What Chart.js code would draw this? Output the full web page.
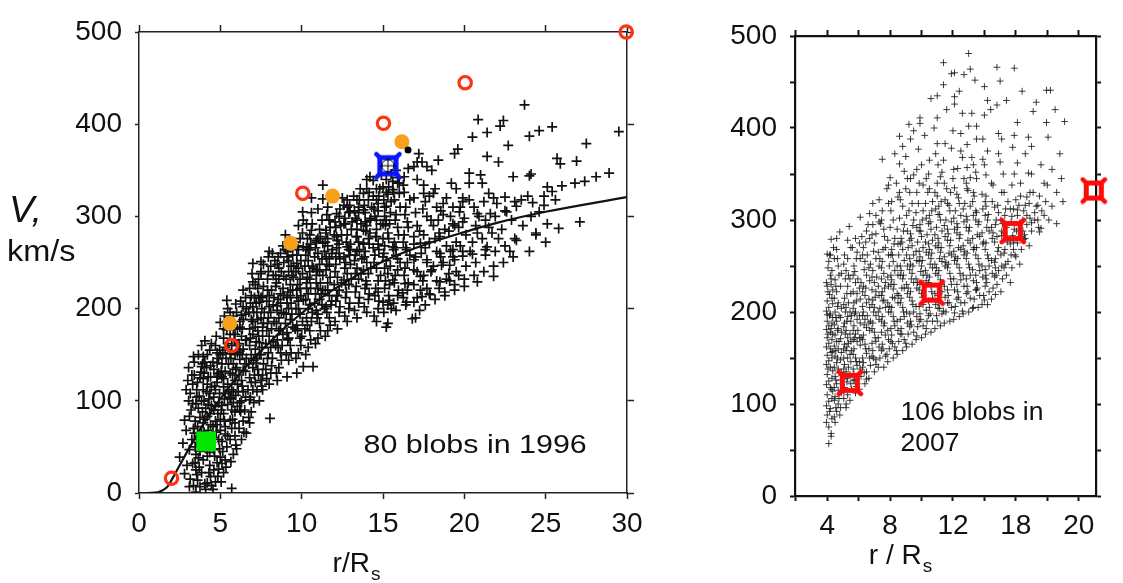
<!DOCTYPE html>
<html><head><meta charset="utf-8">
<script src="https://cdn.jsdelivr.net/npm/chart.js@4.4.1/dist/chart.umd.min.js"></script>
<style>
html,body{margin:0;padding:0;background:#fff;width:1123px;height:583px;overflow:hidden;}
#c1{position:absolute;left:0;top:0;}
#c2{position:absolute;left:690px;top:0;}
</style></head><body>
<canvas id="c1" width="660" height="583"></canvas>
<canvas id="c2" width="433" height="583"></canvas>
<script>
// ---------- Left panel data (1996) ----------
const yTicks = [0,100,200,300,400,500];
const blobs1996 = [
[23.7,421],[20.85,405],[22.4,404],[22.2,398],[21.4,391],[20.5,386],[25.4,397],[24.6,393],[24.0,387],[29.5,392],[22.7,377],[27.5,379],[19.6,373],[19.4,368],[18.4,361],[18.0,350],[17.4,359],[17.2,368],[16.9,354],[21.4,365],[22.1,359],[20.3,347],[21.0,345],[23.0,343],[24.0,344],[25.7,363],[25.9,357],[26.9,360],[28.9,347],[28.1,343],[27.4,338],[26.8,336],[26.0,333],[25.4,327],[24.9,322],[24.2,315],[23.5,318],[23.2,311],[22.5,321],[22.0,314],[21.5,325],[20.3,318],[19.9,316],[19.2,336],[20.3,336],[18.1,325],[17.5,325],[18.7,314],[19.7,305],[20.8,303],[21.6,303],[22.6,305],[19.3,292],[19.9,294],[18.4,296],[24.4,282],[25.8,287],[27.1,294],[23.2,274],[21.4,267],[16.0,325],[15.6,329],[16.0,336],[16.3,343],[16.55,352],[17.1,359],
[24.4,280],[21.3,264],[20.5,259],[19.9,257],[19.4,253],[19.1,247],[18.6,247],[18.0,242],[17.3,235],[21.8,235],[20.8,229],[20.0,224],[19.4,220],[18.8,218],[19.1,230],[18.5,229],[17.9,215],[17.4,213],[16.9,207],[16.45,207],[17.3,220],[16.2,217],[15.5,200],[15.3,184],[16.8,189],[15.0,207],[15.4,209],[16.35,227],[15.6,231],[16.9,242],[17.7,253],[16.9,253],[18.5,260],[19.3,264],[16.45,264],[15.6,267],[17.3,271],[18.5,278],[16.9,278],[20.8,282],
[11.3,334],[10.6,320],[11.3,319],[10.06,305],[10.6,304],[10.3,292],[10.6,285],[9.0,280],[12.6,312],[12.97,305],[13.8,325],[14.0,330],[14.4,339],[14.2,343],[13.4,318],[11.7,296],[12.15,303],[11.5,285],[12.6,292],[13.4,296],[13.8,307],[14.6,318],[15.0,332],[15.2,311],[14.2,296],[15.0,292],[10.9,274],[12.15,278],[13.4,278],[14.6,278],[13.8,285],[12.8,267],[10.1,267],
[7.0,249],[7.5,251],[7.5,240],[8.2,260],[7.0,229],[6.4,220],[5.4,209],[6.3,193],[7.0,202],[7.6,213],[8.4,224],[8.9,235],[9.7,249],[10.5,264],[11.3,271],[12.2,274],[13.0,264],[13.8,271],[15.0,256],[13.8,242],[12.6,231],[11.3,220],[10.1,209],[8.9,195],[7.6,180],[6.6,166],[5.6,151],[4.8,141],[4.4,126],[3.95,112],[3.5,97],[3.1,83],[2.9,68],[2.7,54],[2.5,39],[2.8,21],[3.1,7],[3.5,1],[3.95,148],[4.8,152],[3.85,137],[3.0,122],[2.9,112],[3.3,97],[2.8,79],[5.4,177],[6.2,180],[4.8,126],[5.6,130],[6.4,133],[7.2,141],[10.1,137],[10.7,137],[9.7,130],[9.1,126],[8.5,122],[8.05,81],[6.8,76],[6.6,65],[5.4,50],[6.0,48],[5.0,39],[4.6,25],[5.7,5],[5.0,68],[5.6,79],[6.2,90],[6.8,101],[7.6,112],[4.2,83],[4.6,104],[5.2,115],[5.6,104],[4.4,61],[3.75,50],[3.95,36],[3.5,25],[4.2,11],[3.75,7],[4.4,18],[3.3,32],[3.1,47],[3.4,65]
];
const blobs1996Core = [
[3.6,14],[3.7,28],[3.5,42],[3.8,58],[3.6,72],[3.9,88],[3.7,105],[3.6,120],[3.8,131],[3.4,142],
[4.1,4],[4.3,22],[4.2,40],[4.0,66],[4.4,74],[4.1,92],[4.3,102],[4.2,118],[4.0,130],[4.4,138],[4.2,150],
[4.7,12],[4.8,33],[4.6,47],[4.9,58],[4.7,78],[4.6,90],[4.9,98],[4.7,112],[4.8,120],[4.6,134],[4.9,146],[4.7,160],
[5.2,22],[5.3,36],[5.1,56],[5.3,72],[5.2,86],[5.1,95],[5.3,108],[5.2,124],[5.1,140],[5.3,158],[5.2,168],[5.0,185],
[5.8,42],[5.9,62],[5.7,70],[5.9,88],[5.8,98],[5.7,112],[5.9,122],[5.8,140],[5.7,160],[5.9,172],[5.8,192],[6.0,160],
[6.3,58],[6.4,78],[6.2,98],[6.4,110],[6.3,122],[6.2,145],[6.4,156],[6.3,170],[6.2,186],[6.4,202],[6.5,140],
[6.9,88],[7.0,112],[6.8,125],[7.0,136],[6.9,150],[6.8,160],[7.0,172],[6.9,188],[7.1,212],[6.8,222],
[7.4,100],[7.5,122],[7.3,134],[7.5,150],[7.4,163],[7.3,176],[7.5,190],[7.4,207],[7.3,222],[7.5,238],
[8.0,118],[8.1,130],[7.9,146],[8.1,158],[8.0,170],[7.9,184],[8.1,196],[8.0,214],[7.9,232],[8.1,246],[8.0,262],
[8.6,136],[8.7,152],[8.5,166],[8.7,178],[8.6,190],[8.5,203],[8.7,216],[8.6,232],[8.5,248],[8.7,260],
[9.2,144],[9.3,160],[9.1,174],[9.3,188],[9.2,200],[9.1,212],[9.3,226],[9.2,240],[9.1,256],[9.3,266],
[9.8,152],[9.9,168],[9.7,182],[9.9,194],[9.8,208],[9.7,220],[9.9,232],[9.8,244],[9.7,258],[9.9,276],[9.8,290],
[10.4,158],[10.5,176],[10.3,190],[10.5,204],[10.4,216],[10.3,228],[10.5,240],[10.4,252],[10.3,266],[10.5,280],
[11.0,168],[11.1,184],[10.9,198],[11.1,210],[11.0,222],[10.9,236],[11.1,248],[11.0,260],[10.9,272],[11.1,286],
[11.6,176],[11.7,190],[11.5,202],[11.7,214],[11.6,228],[11.5,242],[11.7,254],[11.6,268],[11.5,282],[11.7,296],[11.6,310],
[12.2,178],[12.3,196],[12.1,208],[12.3,220],[12.2,234],[12.1,248],[12.3,260],[12.2,274],[12.1,288],[12.3,300],
[12.8,186],[12.9,200],[12.7,212],[12.9,226],[12.8,238],[12.7,250],[12.9,264],[12.8,280],[12.7,292],[12.9,304],[12.8,318],
[13.4,190],[13.5,206],[13.3,218],[13.5,232],[13.4,244],[13.3,258],[13.5,272],[13.4,286],[13.3,298],[13.5,310],
[14.0,196],[14.1,210],[13.9,222],[14.1,238],[14.0,250],[13.9,262],[14.1,276],[14.0,290],[13.9,304],[14.1,318],
[14.6,186],[14.7,200],[14.5,214],[14.7,230],[14.6,244],[14.5,258],[14.7,270],[14.6,286],[14.5,300],[14.7,314],[14.6,330],
[15.2,180],[15.3,204],[15.1,222],[15.3,238],[15.2,252],[15.1,268],[15.3,282],[15.2,296],[15.1,310],[15.3,324],[15.2,340],
[15.8,198],[15.9,214],[15.7,228],[15.9,242],[15.8,258],[15.7,272],[15.9,288],[15.8,302],[15.7,318],[15.9,336],[15.8,350],
[16.4,204],[16.5,220],[16.3,236],[16.5,250],[16.4,266],[16.3,280],[16.5,294],[16.4,310],[16.3,326],
[17.0,190],[17.1,212],[16.9,226],[17.1,240],[17.0,256],[16.9,270],[17.1,290],[17.0,304],[16.9,320],[17.1,340],
[17.6,204],[17.7,222],[17.5,236],[17.7,250],[17.6,266],[17.5,280],[17.7,300],[17.6,316],[17.5,334],[17.7,354],
[18.2,210],[18.3,230],[18.1,246],[18.3,262],[18.2,276],[18.1,290],[18.3,310],[18.2,330],
[18.8,214],[18.9,232],[18.7,250],[18.9,268],[18.8,286],[18.7,302],[18.9,320],
[19.4,226],[19.5,240],[19.3,256],[19.5,272],[19.4,290],[19.3,310],[19.5,330],
[20.0,232],[20.1,246],[19.9,262],[20.1,280],[20.0,298],[19.9,320],
[20.6,236],[20.7,250],[20.5,272],[20.7,290],[20.6,310],
[21.2,240],[21.3,258],[21.1,276],[21.3,296],[21.2,316],[21.1,336],
[21.8,246],[21.9,262],[21.7,282],[21.9,300],[21.8,320],
[22.4,250],[22.5,268],[22.3,286],[22.5,306],
[23.0,256],[23.1,276],[22.9,296],[23.1,316],
[24.0,262],[24.1,300],[23.9,322],[24.1,346],
[25.0,272],[25.1,292],[24.9,312],[25.1,332]
];
const blobs1996Dense = [
[3.35,8],[3.55,20],[3.45,33],[3.75,45],[3.55,55],[3.85,66],[3.45,78],[3.65,92],[3.85,100],[3.55,112],[3.75,125],[3.9,140],[3.3,118],[3.2,90],[3.4,128],
[4.05,10],[4.35,30],[4.15,48],[4.45,55],[4.25,68],[4.05,80],[4.35,86],[4.15,110],[4.45,115],[4.25,126],[4.05,142],[4.35,155],[4.45,95],[4.0,100],
[4.55,4],[4.85,18],[4.65,40],[4.95,48],[4.75,66],[4.55,72],[4.85,86],[4.95,108],[4.65,116],[4.85,128],[4.55,142],[4.95,155],[4.75,170],
[5.05,12],[5.35,28],[5.15,45],[5.45,62],[5.25,78],[5.05,90],[5.45,96],[5.25,102],[5.45,118],[5.05,132],[5.35,146],[5.15,152],[5.45,162],[5.25,192],[5.45,200],
[5.65,34],[5.95,52],[5.75,80],[6.05,94],[5.65,102],[5.95,106],[6.05,118],[5.75,128],[5.95,134],[5.65,146],[6.05,152],[5.85,166],[6.05,178],[5.75,182],[5.95,205],
[6.15,70],[6.45,66],[6.25,88],[6.55,104],[6.35,116],[6.15,128],[6.55,132],[6.35,150],[6.15,162],[6.55,166],[6.35,178],[6.55,194],[6.25,208],[6.55,212],
[6.75,82],[7.05,98],[6.85,104],[7.15,120],[6.75,140],[7.05,144],[7.15,156],[6.85,168],[7.15,180],[6.75,196],[7.05,196],[6.85,206],[7.15,226],[6.95,238],
[7.25,110],[7.55,116],[7.35,128],[7.65,140],[7.25,146],[7.55,158],[7.35,170],[7.65,184],[7.25,196],[7.55,200],[7.35,214],[7.65,224],[7.35,232],[7.65,248],
[7.85,124],[8.15,138],[7.95,152],[8.25,164],[7.85,176],[8.15,178],[7.95,190],[8.25,204],[7.85,208],[8.15,220],[7.95,240],[8.25,236],[8.35,252],[7.95,256],
[8.45,130],[8.75,144],[8.55,158],[8.85,172],[8.45,184],[8.75,196],[8.55,210],[8.85,222],[8.45,228],[8.75,240],[8.55,256],[8.85,268],
[9.05,150],[9.35,152],[9.15,166],[9.45,180],[9.05,194],[9.35,206],[9.15,218],[9.45,220],[9.05,232],[9.35,246],[9.15,262],[9.45,258],[9.55,272],
[9.65,146],[9.95,160],[9.75,176],[10.05,186],[9.65,200],[9.95,214],[9.75,226],[10.05,238],[9.65,240],[9.95,252],[9.75,268],[10.05,282],[10.1,296],
[10.25,150],[10.55,166],[10.35,182],[10.65,196],[10.25,210],[10.55,222],[10.35,234],[10.65,246],[10.25,258],[10.55,270],[10.35,276],[10.65,292],
[10.85,162],[11.15,176],[10.95,190],[11.25,204],[10.85,216],[11.15,228],[10.95,242],[11.25,254],[10.85,266],[11.15,278],[11.25,296],[11.0,308],
[11.45,170],[11.75,182],[11.55,196],[11.85,208],[11.45,220],[11.75,234],[11.55,248],[11.85,260],[11.45,272],[11.75,288],[11.55,302],
[12.05,186],[12.35,202],[12.15,214],[12.45,228],[12.05,240],[12.35,254],[12.15,266],[12.45,280],[12.05,294],[12.35,308],[12.5,320],
[12.65,192],[12.95,206],[12.75,218],[13.05,232],[12.65,244],[12.95,258],[12.75,272],[13.05,286],[12.65,298],[12.95,312],
[13.25,198],[13.55,212],[13.35,224],[13.65,238],[13.25,252],[13.55,264],[13.35,278],[13.65,292],[13.25,306],[13.55,318],
[13.85,202],[14.15,216],[13.95,230],[14.25,244],[13.85,256],[14.15,270],[13.95,284],[14.25,298],[13.85,312],[14.15,326],
[14.45,192],[14.75,208],[14.55,222],[14.85,236],[14.45,250],[14.75,264],[14.55,278],[14.85,292],[14.45,308],[14.75,322],[14.9,345],
[15.05,196],[15.35,214],[15.15,230],[15.45,246],[15.05,260],[15.35,276],[15.15,290],[15.45,304],[15.05,318],[15.35,332],[15.5,346],
[15.65,206],[15.95,220],[15.75,236],[16.05,250],[15.65,264],[15.95,280],[15.75,296],[16.05,310],[15.65,326],[15.95,342],
[16.25,212],[16.55,228],[16.35,244],[16.65,258],[16.25,272],[16.55,288],[16.35,302],[16.65,318],[16.25,334],
[17.25,198],[17.45,230],[17.35,260],[17.25,284],[17.45,308],[17.85,216],[17.95,240],[17.85,272],[17.95,296],[17.85,322],
[18.45,222],[18.55,256],[18.45,282],[18.55,306],[19.05,238],[19.15,262],[19.05,284],[19.15,300],[19.65,236],[19.75,268],[19.65,288],[19.75,310],
[20.35,262],[20.9,300],[21.5,288],[22.1,276],[22.8,262],[23.6,290],[24.6,305],[25.6,318]
];
const blobs1996Extra = [
[2.95,30],[3.15,15],[3.25,58],[3.05,100],[3.45,50],[3.65,38],[3.35,70],[3.85,22],[3.95,76],[4.15,58],[4.35,44],[4.45,8],[4.25,96],[3.95,124],[4.15,136],[3.65,150],[4.35,108],[3.75,82],[3.55,104],[3.15,108],[3.05,136],[3.35,148],[3.85,160],[4.05,165],[4.45,162],[3.25,128],
[4.6,60],[4.8,74],[5.0,80],[4.7,94],[4.9,130],[5.1,126],[5.3,132],[5.5,140],[5.0,150],[5.2,178],[5.4,186],[5.6,172],[5.8,178],[5.5,110],[5.7,90],[5.9,76],[5.3,64],[5.1,32],[4.9,26],[5.6,58],[5.8,110],[6.0,136],[5.6,196],[5.9,150],
[6.1,110],[6.3,100],[6.5,90],[6.7,112],[6.9,120],[7.1,128],[6.6,146],[6.8,178],[7.0,186],[7.2,164],[7.4,150],[7.6,170],[7.8,162],[6.4,188],[6.6,200],[6.9,214],[7.2,206],[7.5,212],[7.7,196],[7.9,220],[8.0,202],[7.3,188],[7.8,134],[7.6,128],[6.2,154],[6.0,196],
[8.2,146],[8.4,160],[8.6,176],[8.8,160],[9.0,184],[9.2,168],[9.4,194],[9.6,178],[9.8,200],[8.3,186],[8.5,198],[8.7,206],[8.9,214],[9.1,206],[9.3,214],[9.5,234],[9.7,212],[9.9,222],[8.3,212],[8.6,244],[8.9,250],[9.2,252],[9.5,246],[9.8,264],[8.4,236],[9.0,264],[9.4,236],[10.0,170],
[10.2,178],[10.4,200],[10.6,186],[10.8,206],[11.0,194],[11.2,216],[11.4,200],[11.6,220],[11.8,204],[12.0,226],[12.2,214],[10.3,222],[10.5,232],[10.7,244],[10.9,228],[11.1,240],[11.3,236],[11.5,256],[11.7,246],[11.9,264],[12.1,256],[12.3,270],[10.2,246],[10.8,256],[11.4,262],[12.0,280],[10.4,264],[11.0,276],[11.6,276],[12.4,290],
[12.6,256],[13.0,270],[13.4,262],[13.8,270],[14.2,282],[14.6,296],[15.0,276],[15.4,292],[15.8,266],[13.1,294],[13.5,304],[13.9,294],[14.3,310],[14.7,306],[15.1,300],[15.5,316],[12.8,310],[13.2,322],[13.6,330],[14.0,340],[14.4,322],[14.8,330],[15.2,326],[15.6,338],[13.0,248],[13.7,254],[14.4,266],[15.1,244],[15.9,254],[12.7,226],[13.3,238],[14.0,226],[14.7,218],[15.4,226]
];
const fitCurve1996 = [[0.5,0],[1.2,1],[1.7,6],[2.0,14],[2.5,30],[3,46],[4,76],[5,102],[6,125],[7,145],[8,163],[9,180],[10,195],[11,209],[12,221],[13,232],[14,242],[15,251],[16,259],[18,272],[20,283],[22,293],[25,305],[30,321]];
const redOpen1996 = [[2.0,16],[5.7,160],[10.07,325],[15.03,401],[20.05,445],[29.95,500]];
const orangeFilled1996 = [[5.58,184],[9.32,271],[11.9,322],[16.16,381]];
const blackDot1996 = [[16.54,372]];
const blueMarker1996 = [[15.3,355]];
const greenMarker1996 = [[4.13,56]];
const label1996 = '80 blobs in 1996';

// ---------- Right panel data (2007) ----------
const xTickValues2007 = [4,8,12,16,20];
const xTickLabels2007 = ['4','8','12','18','20'];
const blobs2007 = [
[13.0,481],[11.4,471],[14.8,466],[15.9,465],[11.9,459],[12.1,460],[12.7,458],[13.1,464],[11.4,447],[14.0,445],[15.0,451],[17.95,441],[18.2,441],[10.6,432],[11.0,435],[12.1,434],[12.1,426],[14.2,430],[14.8,425],[17.1,418],[12.6,416],[13.2,416],[14.0,414],[11.0,411],[9.9,411],[9.9,405],[9.2,404],[9.5,397],[8.6,391],[12.0,397],[12.5,394],[13.0,402],[13.5,402],[13.5,388],[13.9,388],[14.9,394],[15.1,388],[16.1,406],[16.8,390],[17.95,406],[19.1,407],[18.05,390],[15.8,379],[17.0,380],[11.0,383],[11.5,383],[9.8,377],[7.5,366],[9.0,369],[10.5,365],[11.4,365],[12.6,368],[13.2,368],[14.2,375],[15.0,363],[16.1,362],[15.9,350],[16.8,351],[18.0,338],[15.75,338],[16.9,330],[17.4,316],[17.6,291],[17.0,297],[16.7,305],[16.1,311],[8.0,346],[7.9,338],[8.6,361],[8.9,353],[9.5,349],[10.3,345],[11.2,347],[12.0,345],[12.9,357],[13.5,345],[14.1,349],[14.55,338],[14.1,326],[13.3,330],[12.9,334],[12.4,318],[11.6,334],[11.0,326],[10.5,334],[9.7,330],[9.0,334],[8.6,330],[7.8,334],[7.3,322],[6.9,318],[6.7,307],[6.1,303],[5.4,293],[4.8,287],[4.25,279],[4.2,262],[4.0,263],[4.05,248],[4.25,236],[4.0,228],[4.15,219],[4.35,209],[4.0,197],
[17.5,287],[16.5,279],[15.8,283],[15.1,283],[14.7,248],[14.1,240],[13.5,224],[14.0,213],[14.7,219],[13.3,205],[12.6,201],[12.1,199],[11.4,201],[11.0,190],[10.3,182],[9.7,174],[9.0,166],[8.4,158],[7.8,154],[7.1,143],[6.5,127],[5.85,119],[5.2,96],[4.8,88],[4.5,80],[4.25,68],[4.1,57],[4.25,65],
[8.3,372],[8.8,380],[9.3,388],[10.2,392],[10.8,400],[11.6,420],[12.4,440],[13.4,452],[14.4,420],[15.4,430],[16.4,440],[17.3,428],[18.5,420],[10.0,360],[10.9,372],[11.9,378],[12.9,382],[13.9,366],[14.9,372],[15.9,392],[16.6,372],[17.6,360],[18.3,355],[18.8,372],[8.4,340],[9.3,345],[10.1,338],[11.3,352],[12.3,356],[13.1,346],[14.0,360],[15.2,350],[16.3,340],[17.0,350],[17.8,340],[18.6,330],[18.9,345],[19.0,320]
];
const blobs2007Core = [
[4.1,75],[4.0,88],[4.2,95],[4.1,103],[4.0,110],[4.2,118],[4.1,125],[4.0,132],[4.2,140],[4.1,147],[4.0,153],[4.2,160],[4.1,166],[4.0,172],[4.2,178],[4.1,185],[4.0,190],[4.2,198],[4.1,205],[4.0,212],[4.2,240],[4.1,255],
[4.6,92],[4.7,100],[4.5,108],[4.7,115],[4.6,122],[4.5,130],[4.7,138],[4.6,145],[4.5,152],[4.7,160],[4.6,168],[4.5,175],[4.7,182],[4.6,190],[4.5,200],[4.7,210],[4.6,222],[4.5,235],[4.7,250],[4.6,268],
[5.2,100],[5.3,110],[5.1,118],[5.3,128],[5.2,135],[5.1,143],[5.3,150],[5.2,158],[5.1,165],[5.3,172],[5.2,180],[5.1,188],[5.3,195],[5.2,205],[5.1,215],[5.3,228],[5.2,245],[5.1,262],[5.3,278],
[5.8,112],[5.9,122],[5.7,133],[5.9,142],[5.8,150],[5.7,160],[5.9,168],[5.8,176],[5.7,185],[5.9,192],[5.8,200],[5.7,210],[5.9,220],[5.8,232],[5.7,250],[5.9,265],[5.8,280],
[6.4,122],[6.5,135],[6.3,145],[6.5,155],[6.4,165],[6.3,175],[6.5,183],[6.4,192],[6.3,200],[6.5,210],[6.4,218],[6.3,228],[6.5,240],[6.4,255],[6.3,270],[6.5,288],
[7.0,135],[7.1,148],[6.9,158],[7.1,168],[7.0,178],[6.9,188],[7.1,196],[7.0,205],[6.9,213],[7.1,222],[7.0,232],[6.9,245],[7.1,258],[7.0,275],[6.9,295],[7.1,305],
[7.6,140],[7.7,152],[7.5,165],[7.7,175],[7.6,185],[7.5,195],[7.7,205],[7.6,213],[7.5,222],[7.7,232],[7.6,242],[7.5,255],[7.7,270],[7.6,290],[7.5,310],
[8.2,150],[8.3,162],[8.1,175],[8.3,185],[8.2,195],[8.1,205],[8.3,215],[8.2,225],[8.1,235],[8.3,245],[8.2,255],[8.1,268],[8.3,280],[8.2,300],[8.1,320],
[8.8,158],[8.9,170],[8.7,182],[8.9,195],[8.8,205],[8.7,215],[8.9,226],[8.8,236],[8.7,245],[8.9,256],[8.8,268],[8.7,280],[8.9,295],[8.8,315],
[9.4,165],[9.5,178],[9.3,190],[9.5,200],[9.4,212],[9.3,222],[9.5,232],[9.4,242],[9.3,252],[9.5,262],[9.4,272],[9.3,285],[9.5,300],[9.4,318],
[10.0,172],[10.1,185],[9.9,198],[10.1,208],[10.0,220],[9.9,230],[10.1,240],[10.0,250],[9.9,260],[10.1,270],[10.0,282],[9.9,295],[10.1,310],
[10.6,178],[10.7,190],[10.5,205],[10.7,215],[10.6,228],[10.5,238],[10.7,248],[10.6,258],[10.5,268],[10.7,278],[10.6,290],[10.5,305],[10.7,320],
[11.2,185],[11.3,198],[11.1,210],[11.3,222],[11.2,235],[11.1,245],[11.3,255],[11.2,265],[11.1,275],[11.3,288],[11.2,300],[11.1,315],
[11.8,190],[11.9,205],[11.7,218],[11.9,230],[11.8,242],[11.7,252],[11.9,262],[11.8,272],[11.7,285],[11.9,298],[11.8,310],
[12.4,195],[12.5,210],[12.3,222],[12.5,235],[12.4,248],[12.3,258],[12.5,268],[12.4,280],[12.3,292],[12.5,305],
[13.0,200],[13.1,215],[12.9,228],[13.1,240],[13.0,252],[12.9,264],[13.1,275],[13.0,288],[12.9,300],[13.1,315],
[13.6,205],[13.7,218],[13.5,232],[13.7,245],[13.6,258],[13.5,270],[13.7,282],[13.6,295],[13.5,308],
[14.2,208],[14.3,222],[14.1,236],[14.3,250],[14.2,262],[14.1,275],[14.3,288],[14.2,300],[14.1,315],
[14.8,230],[14.9,245],[14.7,258],[14.9,270],[14.8,282],[14.7,295],[14.9,308],
[15.4,240],[15.5,255],[15.3,268],[15.5,280],[15.4,292],[15.3,305],[15.5,320],
[16.0,260],[16.1,275],[15.9,290],[16.1,305],[16.0,322],
[16.6,280],[16.7,295],[16.5,310],[16.7,325],
[17.2,300],[17.3,315],[17.1,330],
[17.8,305],[17.9,320]
];
const blobs2007Dense = [
[3.95,80],[4.3,84],[3.95,98],[4.3,106],[4.35,114],[3.95,121],[4.3,128],[4.35,136],[3.95,143],[4.3,150],[4.35,157],[3.95,162],[4.3,170],[4.35,176],[3.95,181],[4.3,188],[4.35,194],[3.95,201],[4.3,215],[4.35,224],[3.95,232],[4.3,245],[4.4,270],
[4.45,86],[4.85,96],[4.45,104],[4.9,112],[4.45,118],[4.85,126],[4.9,134],[4.45,140],[4.85,148],[4.9,156],[4.45,163],[4.85,171],[4.9,178],[4.45,186],[4.85,194],[4.9,204],[4.45,215],[4.85,228],[4.9,242],[4.45,258],
[5.45,104],[5.05,114],[5.5,122],[5.45,132],[5.05,138],[5.5,146],[5.45,154],[5.05,160],[5.5,168],[5.45,176],[5.05,184],[5.5,190],[5.45,200],[5.05,208],[5.5,220],[5.45,236],[5.05,252],[5.5,270],
[6.05,116],[5.65,126],[6.1,138],[6.05,146],[5.65,154],[6.1,164],[6.05,172],[5.65,180],[6.1,188],[6.05,196],[5.65,204],[6.1,214],[6.05,226],[5.65,240],[6.1,258],[6.05,275],
[6.65,128],[6.25,140],[6.7,150],[6.65,160],[6.25,170],[6.7,180],[6.65,188],[6.25,196],[6.7,205],[6.65,214],[6.25,222],[6.7,234],[6.65,248],[6.25,262],[6.7,280],[6.6,295],
[7.25,140],[6.85,152],[7.3,162],[7.25,172],[6.85,182],[7.3,192],[7.25,200],[6.85,208],[7.3,218],[7.25,228],[6.85,238],[7.3,250],[7.25,265],[6.85,284],[7.3,298],
[7.85,146],[7.45,158],[7.9,170],[7.85,180],[7.45,190],[7.9,200],[7.85,210],[7.45,218],[7.9,228],[7.85,238],[7.45,248],[7.9,262],[7.85,278],[7.45,300],[7.9,318],
[8.45,154],[8.05,168],[8.5,180],[8.45,190],[8.05,200],[8.5,210],[8.45,220],[8.05,230],[8.5,240],[8.45,250],[8.05,262],[8.5,274],[8.45,290],[8.05,310],[8.5,325],
[9.05,162],[8.65,176],[9.1,188],[9.05,200],[8.65,210],[9.1,220],[9.05,230],[8.65,240],[9.1,250],[9.05,262],[8.65,274],[9.1,288],[9.05,305],[8.65,322],[9.1,345],
[9.65,170],[9.25,184],[9.7,195],[9.65,206],[9.25,216],[9.7,226],[9.65,236],[9.25,246],[9.7,256],[9.65,266],[9.25,278],[9.7,292],[9.65,308],[9.25,330],[9.7,355],
[10.25,176],[9.85,190],[10.3,202],[10.25,214],[9.85,224],[10.3,234],[10.25,245],[9.85,255],[10.3,265],[10.25,276],[9.85,288],[10.3,302],[10.25,318],[9.85,340],
[10.85,182],[10.45,196],[10.9,208],[10.85,220],[10.45,232],[10.9,242],[10.85,252],[10.45,262],[10.9,272],[10.85,284],[10.45,296],[10.9,312],[10.85,330],[10.45,350],
[11.45,188],[11.05,204],[11.5,216],[11.45,228],[11.05,240],[11.5,250],[11.45,260],[11.05,270],[11.5,282],[11.45,294],[11.05,306],[11.5,322],[11.45,340],[11.05,360],
[12.05,192],[11.65,210],[12.1,224],[12.05,236],[11.65,248],[12.1,256],[12.05,266],[11.65,278],[12.1,290],[12.05,302],[11.65,318],[12.1,335],[12.05,355],
[12.65,198],[12.25,214],[12.7,228],[12.65,240],[12.25,252],[12.7,262],[12.65,272],[12.25,286],[12.7,298],[12.65,312],[12.25,328],[12.7,345],[12.5,375],
[13.25,204],[12.85,220],[13.3,234],[13.25,246],[12.85,258],[13.3,268],[13.25,280],[12.85,292],[13.3,305],[13.25,320],[12.85,340],[13.3,360],
[13.85,208],[13.45,224],[13.9,238],[13.85,250],[13.45,262],[13.9,274],[13.85,286],[13.45,300],[13.9,312],[13.85,328],[13.45,352],
[14.45,214],[14.05,228],[14.5,242],[14.45,256],[14.05,268],[14.5,280],[14.45,292],[14.05,305],[14.5,320],[14.45,340],
[15.05,222],[14.65,238],[15.1,250],[15.05,262],[14.65,276],[15.1,288],[15.05,300],[14.65,314],[15.1,330],
[15.65,232],[15.25,248],[15.7,262],[15.65,274],[15.25,286],[15.7,298],[15.65,312],[15.25,330],
[16.25,252],[15.85,268],[16.3,282],[16.25,296],[15.85,312],[16.3,326],
[16.85,272],[16.45,288],[16.9,302],[16.85,318],
[17.45,292],[17.65,310],[17.5,326],[18.1,300],[18.3,315],[18.6,296]
];
const blobs2007Extra = [
[4.15,92],[4.25,116],[4.05,138],[4.25,156],[4.05,176],[4.25,182],[4.15,196],[4.05,222],[4.25,230],[4.15,262],
[4.55,96],[4.75,106],[4.55,126],[4.75,134],[4.65,150],[4.55,158],[4.75,168],[4.65,180],[4.55,194],[4.75,196],[4.65,206],[4.55,228],[4.75,240],[4.65,258],[4.6,280],
[5.05,106],[5.25,124],[5.15,130],[5.35,140],[5.05,150],[5.25,162],[5.35,166],[5.15,176],[5.25,190],[5.35,210],[5.15,200],[5.25,220],[5.35,240],[5.15,236],[5.3,258],
[5.55,116],[5.75,126],[5.65,138],[5.85,146],[5.55,158],[5.75,172],[5.65,170],[5.95,180],[5.55,196],[5.75,198],[5.85,212],[5.65,222],[5.95,236],[5.75,244],[5.85,258],[5.6,270],
[6.15,130],[6.35,134],[6.25,150],[6.45,160],[6.15,172],[6.35,186],[6.55,196],[6.25,206],[6.45,226],[6.15,232],[6.35,246],[6.55,262],[6.2,282],[6.45,276],
[6.75,142],[6.95,150],[6.85,166],[7.05,172],[6.75,190],[6.95,200],[7.05,216],[6.85,224],[7.15,238],[6.75,252],[6.95,266],[7.1,285],
[7.35,150],[7.55,160],[7.45,178],[7.65,188],[7.35,204],[7.55,212],[7.65,226],[7.45,236],[7.35,258],[7.55,268],[7.65,282],[7.4,296],
[7.95,160],[8.15,166],[8.05,182],[8.25,190],[7.95,206],[8.15,216],[8.25,230],[8.05,240],[7.95,250],[8.15,262],[8.25,274],[8.0,292],
[8.55,168],[8.75,176],[8.65,192],[8.85,200],[8.55,218],[8.75,226],[8.85,240],[8.65,250],[8.55,262],[8.75,276],[8.85,288],[8.6,302],
[9.15,176],[9.35,186],[9.25,198],[9.45,208],[9.15,226],[9.35,236],[9.45,250],[9.25,258],[9.15,270],[9.35,280],[9.45,294],[9.2,310],
[9.75,184],[9.95,192],[9.85,206],[10.05,216],[9.75,232],[9.95,244],[10.05,256],[9.85,266],[9.75,276],[9.95,288],[10.05,300],[9.8,318],
[10.35,190],[10.55,198],[10.45,212],[10.65,222],[10.35,240],[10.55,252],[10.65,264],[10.45,274],[10.35,284],[10.55,298],[10.65,310],[10.4,330],
[10.95,196],[11.15,204],[11.05,218],[11.25,230],[10.95,248],[11.15,258],[11.25,270],[11.05,280],[10.95,292],[11.15,306],[11.25,320],[11.0,340],
[11.55,200],[11.75,210],[11.65,224],[11.85,236],[11.55,254],[11.75,264],[11.85,278],[11.65,290],[11.55,300],[11.75,316],[11.85,330],
[12.15,206],[12.35,216],[12.25,230],[12.45,242],[12.15,260],[12.35,270],[12.45,284],[12.25,296],[12.15,310],[12.35,324],
[12.75,210],[12.95,222],[12.85,236],[13.05,248],[12.75,266],[12.95,278],[13.05,292],[12.85,304],[12.75,318],[12.95,332],
[13.35,214],[13.55,226],[13.45,240],[13.65,252],[13.35,270],[13.55,284],[13.65,298],[13.45,310],[13.35,326],
[13.95,218],[14.15,232],[14.05,246],[14.25,258],[13.95,276],[14.15,292],[14.25,306],[14.05,320],
[14.55,226],[14.75,240],[14.65,254],[14.85,266],[14.55,286],[14.75,300],[14.85,316],
[15.15,236],[15.35,252],[15.25,264],[15.45,276],[15.15,296],[15.35,312],
[15.75,248],[15.95,262],[15.85,276],[16.05,288],[15.75,304],[16.2,316],
[16.35,268],[16.55,284],[16.45,300],[16.6,316],[17.0,288],[17.2,308],[17.4,300]
];
const redMarkers2007 = [[5.44,123],[10.65,221],[15.8,288],[20.96,332]];
const label2007 = ['106 blobs in','2007'];

// ---------- helpers ----------
const FONT = "'Liberation Sans', Arial, Helvetica, sans-serif";
const pts = a => a.map(p => ({x:p[0], y:p[1]}));
function ringMarker(color, size, lw, inner){
  const c = document.createElement('canvas'); c.width = c.height = size;
  const g = c.getContext('2d'); const m = size/2, h = size*0.27;
  g.strokeStyle = color; g.fillStyle = color; g.lineWidth = lw;
  g.strokeRect(m-h, m-h, 2*h, 2*h);
  g.lineCap = 'round'; g.lineWidth = lw*0.9;
  [[-1,-1],[1,-1],[1,1],[-1,1]].forEach(([sx,sy])=>{
    g.beginPath(); g.moveTo(m+sx*h, m+sy*h); g.lineTo(m+sx*(h+lw*0.7), m+sy*(h+lw*0.7)); g.stroke();
  });
  if (inner){
    g.lineWidth = 1; g.strokeStyle = '#000';
    g.beginPath(); g.arc(m, m, h*0.75, 0, Math.PI*2); g.stroke();
    g.beginPath(); g.moveTo(m-h*0.9, m); g.lineTo(m+h*0.9, m); g.moveTo(m, m-h*0.9); g.lineTo(m, m+h*0.9); g.stroke();
  }
  return c;
}
function axisCfg(o){
  return Object.assign({
    type:'linear',
    grid:{drawOnChartArea:false, drawTicks:true, tickLength:6, color:'#222', tickWidth:1.5},
    border:{display:true, color:'#222', width:1.5},
  }, o);
}
function stretchedText(ctx, txt, x, y, font, sx){
  ctx.save(); ctx.font = font; ctx.translate(x, y); ctx.scale(sx, 1);
  ctx.fillText(txt, 0, 0); ctx.restore();
}
function drawSub(ctx, main, sub, cx, cy, size){
  ctx.save();
  ctx.font = size+'px '+FONT; const w1 = ctx.measureText(main).width;
  ctx.font = Math.round(size*0.68)+'px '+FONT; const w2 = ctx.measureText(sub).width;
  let x = cx - (w1+w2)/2;
  ctx.fillStyle = '#111'; ctx.textBaseline = 'middle'; ctx.textAlign = 'left';
  ctx.font = size+'px '+FONT; ctx.fillText(main, x, cy);
  ctx.font = Math.round(size*0.68)+'px '+FONT; ctx.fillText(sub, x+w1+1, cy+size*0.38);
  ctx.restore();
}
const crossL = {pointStyle:'cross', pointRadius:5, borderColor:'#111', borderWidth:1.7};
const crossR = {pointStyle:'cross', pointRadius:3.4, borderColor:'rgba(20,20,20,0.82)', borderWidth:1};

// ---------- Left chart ----------
const textPlugin1 = {
  id:'texts1',
  afterDraw(chart){
    const ctx = chart.ctx, xs = chart.scales.x, ys = chart.scales.y;
    ctx.save(); ctx.fillStyle = '#111'; ctx.textBaseline = 'middle'; ctx.textAlign = 'left';
    stretchedText(ctx, label1996, xs.getPixelForValue(13.8), ys.getPixelForValue(51), '26px '+FONT, 1.17);
    stretchedText(ctx, 'V,', 9, 212, 'italic 36px '+FONT, 1.05);
    stretchedText(ctx, 'km/s', 7, 253, '29px '+FONT, 1.12);
    ctx.restore();
    drawSub(ctx, 'r/R', 's', 356, 564, 28);
  }
};
new Chart(document.getElementById('c1'), {
  type:'scatter',
  data:{datasets:[
    {data:pts(greenMarker1996), pointStyle:'rect', pointRadius:14, backgroundColor:'#00e600', borderColor:'#00e600', borderWidth:0, order:0},
    {data:pts(blueMarker1996), pointStyle:ringMarker('#0a14ff', 30, 5, true), pointRadius:12, order:1, clip:false},
    {data:pts(blackDot1996), pointStyle:'circle', pointRadius:3.5, backgroundColor:'#000', borderColor:'#000', borderWidth:0, order:2},
    {data:pts(orangeFilled1996), pointStyle:'circle', pointRadius:7.5, backgroundColor:'#f8a01c', borderColor:'#f8a01c', borderWidth:0, order:3},
    {data:pts(redOpen1996), pointStyle:'circle', pointRadius:6.2, backgroundColor:'rgba(0,0,0,0)', borderColor:'#ff3312', borderWidth:3.2, order:4, clip:false},
    Object.assign({data:pts(blobs1996), order:6}, crossL),
    Object.assign({data:pts(blobs1996Core), order:7}, crossL),
    Object.assign({data:pts(blobs1996Dense), order:8}, crossL),
    Object.assign({data:pts(blobs1996Extra), order:9}, crossL),
    {data:pts(fitCurve1996), showLine:true, pointRadius:0, borderColor:'#111', borderWidth:2.2, tension:0.4, fill:false, order:20}
  ]},
  options:{
    responsive:false, devicePixelRatio:1, animation:false,
    layout:{padding:0},
    plugins:{legend:{display:false}, tooltip:{enabled:false}},
    scales:{
      x: axisCfg({position:'bottom', min:0, max:30,
         ticks:{stepSize:5, autoSkip:false, maxRotation:0, padding:8, color:'#111', font:{size:28, family:FONT}},
         afterFit(s){ s.height = 90; }}),
      xTop: axisCfg({position:'top', min:0, max:30, ticks:{display:false, stepSize:5},
         grid:{drawOnChartArea:false, tickLength:7, color:'#222', tickWidth:1.5},
         afterFit(s){ s.height = 32; }}),
      y: axisCfg({position:'left', min:0, max:500,
         ticks:{stepSize:100, padding:13, color:'#111', font:{size:28, family:FONT}},
         grid:{drawOnChartArea:false, tickLength:4, color:'#222', tickWidth:1.5},
         afterFit(s){ s.width = 139; }}),
      yR: axisCfg({position:'right', min:0, max:500, ticks:{display:false, stepSize:100},
         grid:{drawOnChartArea:false, tickLength:7, color:'#222', tickWidth:1.5},
         afterFit(s){ s.width = 33; }})
    }
  },
  plugins:[textPlugin1]
});

// ---------- Right chart ----------
const textPlugin2 = {
  id:'texts2',
  afterDraw(chart){
    const ctx = chart.ctx, xs = chart.scales.x, ys = chart.scales.y;
    ctx.save(); ctx.fillStyle = '#111'; ctx.textBaseline = 'middle'; ctx.textAlign = 'left';
    stretchedText(ctx, label2007[0], xs.getPixelForValue(8.66), ys.getPixelForValue(90), '25px '+FONT, 1.06);
    stretchedText(ctx, label2007[1], xs.getPixelForValue(8.66), ys.getPixelForValue(56), '25px '+FONT, 1.06);
    ctx.restore();
    drawSub(ctx, 'r / R', 's', 210, 556, 28);
  }
};
new Chart(document.getElementById('c2'), {
  type:'scatter',
  data:{datasets:[
    {data:pts(redMarkers2007), pointStyle:ringMarker('#ff0a0a', 28, 5, false), pointRadius:12, order:0, clip:false},
    Object.assign({data:pts(blobs2007), order:1}, crossR),
    Object.assign({data:pts(blobs2007Core), order:2}, crossR),
    Object.assign({data:pts(blobs2007Dense), order:3}, crossR),
    Object.assign({data:pts(blobs2007Extra), order:4}, crossR)
  ]},
  options:{
    responsive:false, devicePixelRatio:1, animation:false,
    layout:{padding:0},
    plugins:{legend:{display:false}, tooltip:{enabled:false}},
    scales:{
      x: axisCfg({position:'bottom', min:1.95, max:21.1,
         ticks:{stepSize:2, includeBounds:false, autoSkip:false, maxRotation:0, padding:8, color:'#111', font:{size:28, family:FONT},
           callback(v){ const i = xTickValues2007.indexOf(v); return i >= 0 ? xTickLabels2007[i] : ''; }},
         grid:{drawOnChartArea:false, tickLength:5, color:'#111', tickWidth:2},
         border:{display:true, color:'#111', width:2.2},
         afterFit(s){ s.height = 87; }}),
      xTop: axisCfg({position:'top', min:1.95, max:21.1, ticks:{display:false, stepSize:2, includeBounds:false},
         grid:{drawOnChartArea:false, tickLength:6, color:'#111', tickWidth:2},
         border:{display:true, color:'#111', width:2.2},
         afterFit(s){ s.height = 36; }}),
      y: axisCfg({position:'left', min:0, max:500,
         ticks:{stepSize:50, padding:13, color:'#111', font:{size:28, family:FONT},
           callback(v){ return yTicks.includes(v) ? String(v) : ''; }},
         grid:{drawOnChartArea:false, tickLength:5, color:'#111', tickWidth:2},
         border:{display:true, color:'#111', width:2.2},
         afterFit(s){ s.width = 105; }}),
      yR: axisCfg({position:'right', min:0, max:500, ticks:{display:false, stepSize:50},
         grid:{drawOnChartArea:false, tickLength:5, color:'#111', tickWidth:2},
         border:{display:true, color:'#111', width:2.2},
         afterFit(s){ s.width = 27; }})
    }
  },
  plugins:[textPlugin2]
});
</script>
</body></html>
